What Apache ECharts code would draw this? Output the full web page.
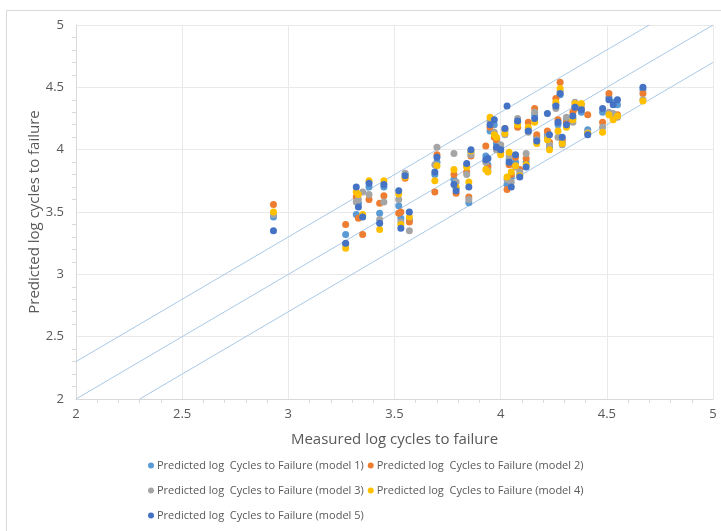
<!DOCTYPE html>
<html>
<head>
<meta charset="utf-8">
<script src="https://cdn.jsdelivr.net/npm/echarts@6/dist/echarts.min.js"></script>
<style>
  html, body { margin: 0; padding: 0; background: #fff; }
  #chart { width: 721px; height: 531px; }
</style>
</head>
<body>
<div id="chart"></div>
<script>
// measured log cycles (x) shared by all five models
var measured = [2.93, 3.27, 3.32, 3.33, 3.35, 3.38, 3.43, 3.45, 3.52, 3.53, 3.55, 3.57,
  3.69, 3.70, 3.78, 3.79, 3.84, 3.85, 3.86, 3.93, 3.94, 3.95, 3.97, 3.98, 4.00, 4.02,
  4.03, 4.04, 4.05, 4.07, 4.08, 4.09, 4.12, 4.13, 4.16, 4.17, 4.22, 4.23, 4.26, 4.27,
  4.28, 4.29, 4.31, 4.34, 4.35, 4.38, 4.41, 4.48, 4.51, 4.53, 4.55, 4.67];

var model1 = [3.46, 3.32, 3.48, 3.57, 3.47, 3.70, 3.49, 3.70, 3.55, 3.45, 3.80, 3.44,
  3.80, 3.90, 3.76, 3.69, 3.87, 3.575, 3.98, 3.95, 3.88, 4.15, 4.20, 4.05, 4.02, 4.15,
  3.72, 3.92, 3.78, 3.90, 4.22, 3.80, 3.90, 4.16, 4.28, 4.10, 4.12, 4.02, 4.36, 4.20,
  4.44, 4.06, 4.24, 4.25, 4.35, 4.30, 4.16, 4.30, 4.42, 4.38, 4.36, 4.48];
var model2 = [3.56, 3.40, 3.62, 3.45, 3.32, 3.60, 3.57, 3.63, 3.49, 3.50, 3.77, 3.42,
  3.66, 3.96, 3.80, 3.65, 3.82, 3.62, 3.95, 4.03, 3.86, 4.18, 4.10, 4.08, 3.98, 4.17,
  3.68, 3.88, 3.80, 3.94, 4.18, 3.84, 3.93, 4.22, 4.33, 4.12, 4.15, 4.06, 4.41, 4.24,
  4.54, 4.08, 4.22, 4.30, 4.33, 4.33, 4.28, 4.22, 4.45, 4.25, 4.28, 4.45];
var model3 = [3.48, 3.24, 3.58, 3.60, 3.66, 3.64, 3.44, 3.58, 3.60, 3.42, 3.81, 3.35,
  3.88, 4.02, 3.97, 3.74, 3.80, 3.60, 3.96, 3.90, 3.83, 4.23, 4.14, 4.00, 4.04, 4.12,
  3.76, 3.95, 3.74, 3.86, 4.25, 3.82, 3.97, 4.14, 4.30, 4.08, 4.10, 4.04, 4.33, 4.10,
  4.47, 4.04, 4.26, 4.22, 4.38, 4.36, 4.14, 4.18, 4.30, 4.29, 4.26, 4.40];
var model4 = [3.50, 3.21, 3.66, 3.64, 3.48, 3.75, 3.36, 3.75, 3.645, 3.40, 3.78, 3.46,
  3.75, 3.87, 3.84, 3.70, 3.86, 3.74, 3.99, 3.84, 3.82, 4.26, 4.12, 4.10, 3.96, 4.13,
  3.78, 3.98, 3.82, 3.87, 4.20, 3.79, 3.88, 4.18, 4.22, 4.05, 4.08, 4.00, 4.38, 4.15,
  4.49, 4.05, 4.18, 4.24, 4.37, 4.37, 4.13, 4.14, 4.28, 4.24, 4.27, 4.39];
var model5 = [3.35, 3.25, 3.70, 3.54, 3.46, 3.73, 3.41, 3.72, 3.67, 3.37, 3.79, 3.50,
  3.82, 3.94, 3.72, 3.67, 3.89, 3.70, 4.00, 3.92, 3.93, 4.20, 4.24, 4.02, 4.00, 4.17,
  4.35, 3.90, 3.70, 3.96, 4.23, 3.78, 3.86, 4.15, 4.25, 4.07, 4.29, 4.12, 4.35, 4.22,
  4.45, 4.10, 4.20, 4.27, 4.34, 4.32, 4.12, 4.33, 4.40, 4.36, 4.40, 4.50];

// reference bands: y = x + offset
var bandOffsets = [0.3, 0, -0.3];
var axisMin = 2, axisMax = 5;

var seriesNames = [
  'Predicted log  Cycles to Failure (model 1)',
  'Predicted log  Cycles to Failure (model 2)',
  'Predicted log  Cycles to Failure (model 3)',
  'Predicted log  Cycles to Failure (model 4)',
  'Predicted log  Cycles to Failure (model 5)'
];
var colors = ['#5b9bd5', '#ed7d31', '#a5a5a5', '#ffc000', '#4472c4'];
var models = [model1, model2, model3, model4, model5];

function pairs(ys) {
  return measured.map(function (x, i) { return [x, ys[i]]; });
}

function bandLine(off) {
  // clip the line y = x + off to the axis box
  var x0 = Math.max(axisMin, axisMin - off), x1 = Math.min(axisMax, axisMax - off);
  return [[x0, x0 + off], [x1, x1 + off]];
}

var series = [];
bandOffsets.forEach(function (off) {
  series.push({
    type: 'line',
    data: bandLine(off),
    symbol: 'none',
    silent: true,
    lineStyle: { color: '#a9c8e6', width: 1 },
    z: 1
  });
});
models.forEach(function (m, i) {
  series.push({
    name: seriesNames[i],
    type: 'scatter',
    data: pairs(m),
    symbolSize: 7,
    itemStyle: { color: colors[i], opacity: 1 },
    z: 2 + i
  });
});

var axisCommon = {
  type: 'value',
  min: axisMin,
  max: axisMax,
  interval: 0.5,
  nameLocation: 'middle',
  nameMoveOverlap: false,
  nameTextStyle: { color: '#595959', fontSize: 15, fontFamily: 'Open Sans' },
  axisLine: { show: true, lineStyle: { color: '#d9d9d9' } },
  axisTick: { show: false },
  minorTick: { show: true, splitNumber: 5, length: 4, inside: true, lineStyle: { color: '#d9d9d9' } },
  axisLabel: { color: '#595959', fontSize: 13, fontFamily: 'Open Sans' },
  splitLine: { show: true, lineStyle: { color: '#e9e9e9' } }
};

var chart = echarts.init(document.getElementById('chart'));
chart.setOption({
  animation: false,
  backgroundColor: '#fff',
  graphic: [{
    type: 'rect',
    shape: { x: 6.5, y: 10.5, width: 720, height: 530 },
    style: { fill: 'none', stroke: '#d9d9d9', lineWidth: 1 },
    silent: true
  }],
  grid: { left: 76, right: 8, top: 25, bottom: 132 },
  xAxis: Object.assign({}, axisCommon, {
    name: 'Measured log cycles to failure',
    nameGap: 33,
    axisLabel: Object.assign({}, axisCommon.axisLabel, { margin: 9 })
  }),
  yAxis: Object.assign({}, axisCommon, {
    name: 'Predicted log cycles to failure',
    nameGap: 34,
    axisLabel: Object.assign({}, axisCommon.axisLabel, { margin: 12 })
  }),
  legend: {
    left: 143,
    top: 450,
    width: 470,
    itemWidth: 6,
    itemHeight: 6,
    itemGap: 4,
    icon: 'circle',
    textStyle: { color: '#595959', fontSize: 11, fontFamily: 'Open Sans', lineHeight: 21, padding: [0, 0, 0, -2] },
    data: seriesNames
  },
  series: series
});
</script>
</body>
</html>
